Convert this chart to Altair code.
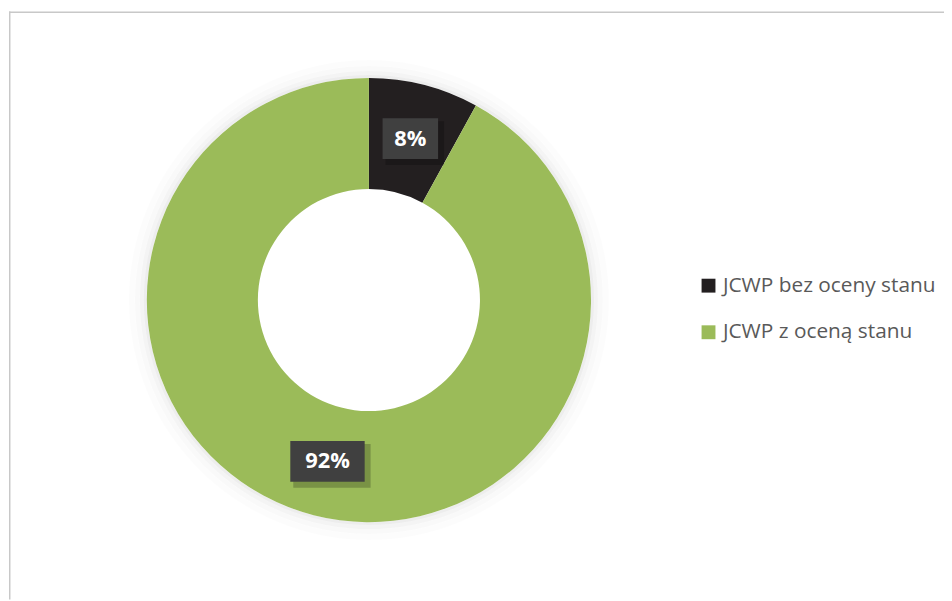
import altair as alt
import pandas as pd

categories = ["JCWP bez oceny stanu", "JCWP z oceną stanu"]
values = [8, 92]
labels = ["8%", "92%"]
colors = ["#231f20", "#9bbb59"]

df = pd.DataFrame({"idx": [0, 1], "category": categories, "value": values, "label": labels})

W, H = 944, 593
CX, CY = 363, 291
R_OUT, R_IN = 224, 112
R_LAB = 168

base = alt.Chart(df)

# soft glow around the ring
glow_src = alt.Data(values=[{"k": 1}])
glow = [
    alt.Chart(glow_src).mark_arc(theta=0, theta2=6.2832, radius=r2, radius2=r1, color="#000000", opacity=op)
    .encode(x=alt.value(CX), y=alt.value(CY))
    for r1, r2, op in [(224, 227, 0.07), (227, 231, 0.045), (231, 236, 0.025), (236, 242, 0.012)]
]

ring = base.mark_arc(radius=R_OUT, radius2=R_IN, stroke=None).encode(
    theta=alt.Theta("value:Q", stack=True),
    order=alt.Order("idx:Q"),
    color=alt.Color(
        "category:N",
        scale=alt.Scale(domain=categories, range=colors),
        legend=alt.Legend(
            title=None,
            orient="none",
            legendX=695,
            legendY=266,
            symbolType="square",
            symbolSize=196,
            symbolStrokeWidth=0,
            labelFont="Open Sans",
            labelFontSize=21,
            labelColor="#595959",
            rowPadding=25,
            labelOffset=4,
            labelLimit=400,
        ),
    ),
    x=alt.value(CX),
    y=alt.value(CY),
)

pos = base.transform_window(
    cum="sum(value)", sort=[alt.SortField("idx")], frame=[None, 0]
).transform_joinaggregate(total="sum(value)").transform_calculate(
    mid="(datum.cum - datum.value/2) / datum.total * 2 * PI",
).transform_calculate(
    px=f"{CX} + {R_LAB} * sin(datum.mid)",
    py=f"{CY} - {R_LAB} * cos(datum.mid)",
    hw="9 + 9.5 * length(datum.label)",
).transform_calculate(
    x1="datum.px - datum.hw", x2="datum.px + datum.hw",
    y1="datum.py - 20.5", y2="datum.py + 20.5",
    sx1="datum.px - datum.hw + 3", sx2="datum.px + datum.hw + 6",
    sy1="datum.py - 20.5 + 3", sy2="datum.py + 20.5 + 6",
)

shadow = pos.mark_rect(color="#000000", opacity=0.22).encode(
    x=alt.X("sx1:Q", scale=None, axis=None), x2="sx2:Q",
    y=alt.Y("sy1:Q", scale=None, axis=None), y2="sy2:Q",
)
box = pos.mark_rect(color="#404040").encode(
    x=alt.X("x1:Q", scale=None, axis=None), x2="x2:Q",
    y=alt.Y("y1:Q", scale=None, axis=None), y2="y2:Q",
)
txt = pos.mark_text(font="Open Sans", fontSize=22, fontWeight="bold", color="#ffffff",
                    align="center", baseline="middle").encode(
    x=alt.X("px:Q", scale=None, axis=None),
    y=alt.Y("py:Q", scale=None, axis=None),
    text="label:N",
)

border_top = alt.Chart(glow_src).mark_rule(color="#c8c8c8", strokeWidth=1.5).encode(
    x=alt.value(0), x2=alt.value(W), y=alt.value(0.75)
)
border_left = alt.Chart(glow_src).mark_rule(color="#c8c8c8", strokeWidth=1.5).encode(
    x=alt.value(0.75), y=alt.value(0), y2=alt.value(H)
)

chart = alt.layer(*glow, ring, shadow, box, txt, border_top, border_left).properties(
    width=W, height=H,
    autosize=alt.AutoSizeParams(type="fit", contains="padding"),
    padding=0,
    background="#ffffff",
).configure_view(stroke=None)

chart.save("out.html", embed_options={"renderer": "svg", "actions": False})
